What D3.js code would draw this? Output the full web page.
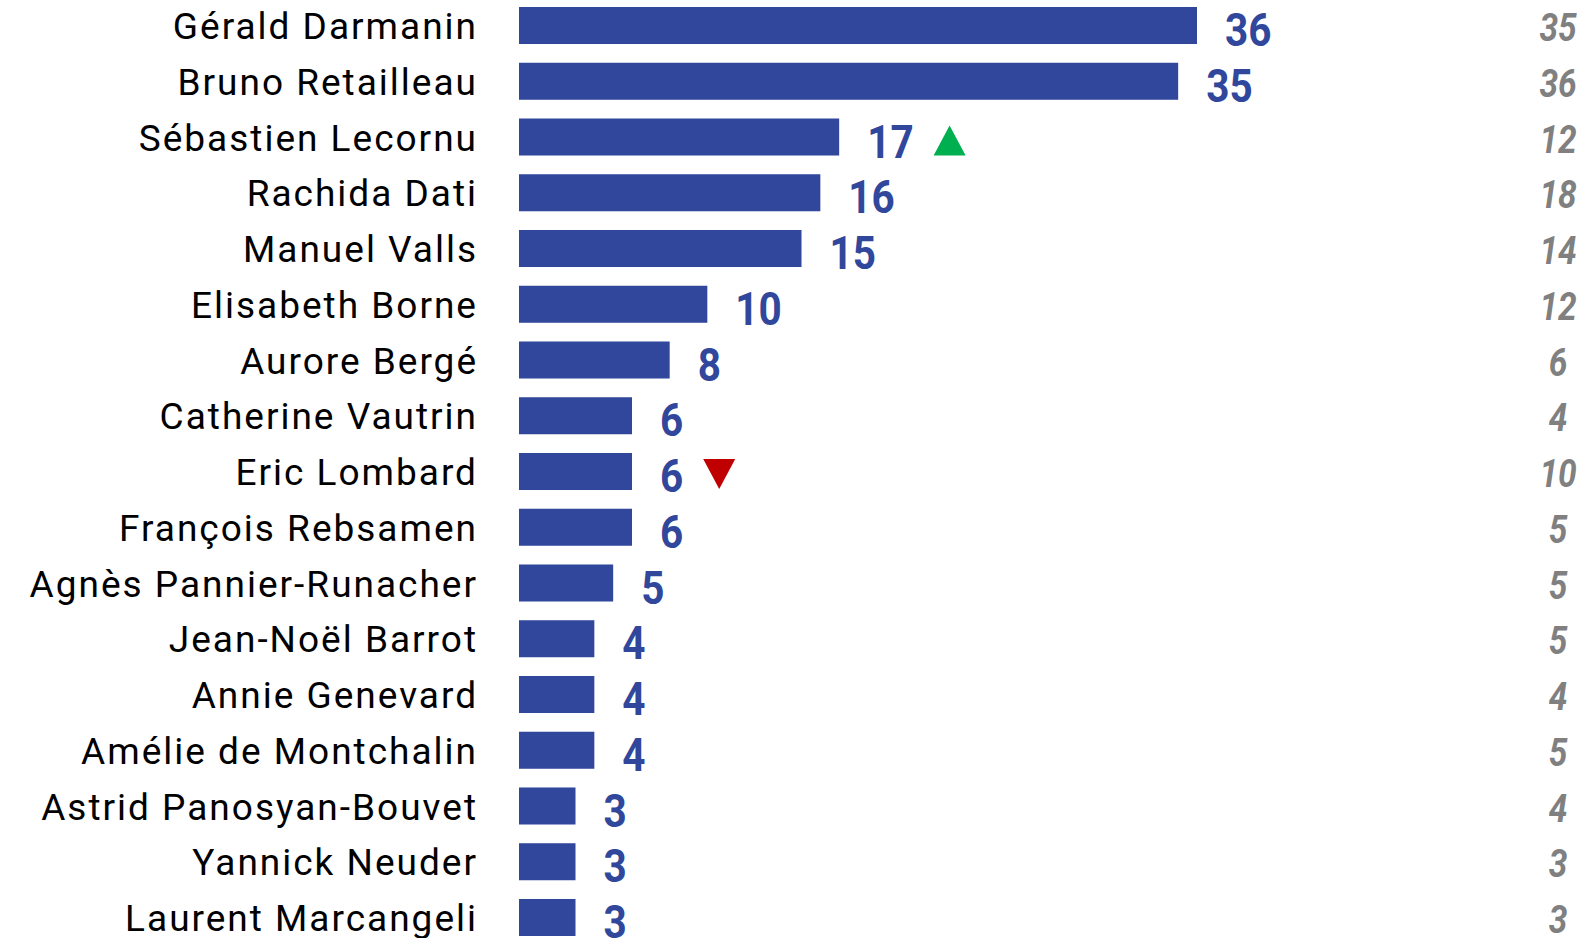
<!DOCTYPE html>
<html lang="fr">
<head>
<meta charset="UTF-8">
<title>Barres ministres</title>
<script src="https://cdn.jsdelivr.net/npm/d3@7"></script>
<style>
    html, body { margin: 0; padding: 0; background: #fff; }
    svg { display: block; }
    .name { font-family: Roboto, sans-serif; font-size: 37px; letter-spacing: 2px; fill: #000; }
    .value { font-family: Roboto, sans-serif; font-size: 46px; font-weight: 700; fill: #30479c; }
    .prev { font-family: Roboto, sans-serif; font-size: 38px; font-weight: 700; font-style: italic; fill: #808080; }
</style>
</head>
<body>
<svg width="1595" height="938"></svg>
<script>
    // data
    const names = ["Gérald Darmanin", "Bruno Retailleau", "Sébastien Lecornu", "Rachida Dati",
        "Manuel Valls", "Elisabeth Borne", "Aurore Bergé", "Catherine Vautrin", "Eric Lombard",
        "François Rebsamen", "Agnès Pannier-Runacher", "Jean-Noël Barrot", "Annie Genevard",
        "Amélie de Montchalin", "Astrid Panosyan-Bouvet", "Yannick Neuder", "Laurent Marcangeli"];
    const values = [36, 35, 17, 16, 15, 10, 8, 6, 6, 6, 5, 4, 4, 4, 3, 3, 3];
    const previous = [35, 36, 12, 18, 14, 12, 6, 4, 10, 5, 5, 5, 4, 5, 4, 3, 3];
    const trends = ["", "", "up", "", "", "", "", "", "down", "", "", "", "", "", "", "", ""];

    const rows = names.map((n, i) => ({name: n, value: values[i], prev: previous[i], trend: trends[i]}));

    const svg = d3.select("svg");
    const squeeze = 0.88; // narrow the digits a bit, the original font is semi condensed

    const x = d3.scaleLinear().domain([0, 36]).range([519, 1197]);
    const y = d3.scaleBand().domain(names).range([7, 936]).paddingInner(0.336).paddingOuter(0);
    const bh = y.bandwidth();

    const row = svg.selectAll("g.row").data(rows).enter().append("g").attr("class", "row");

    row.append("rect")
        .attr("x", x(0))
        .attr("y", d => y(d.name))
        .attr("width", d => x(d.value) - x(0))
        .attr("height", bh)
        .attr("fill", "#30479c");

    // trailing letter-spacing is added after the last glyph, so shift by it
    row.append("text").attr("class", "name")
        .attr("text-anchor", "end")
        .attr("x", 478)
        .attr("y", d => y(d.name) + bh - 5)
        .text(d => d.name);

    const lab = row.append("text").attr("class", "value")
        .attr("transform", d => `translate(${x(d.value) + 28},${y(d.name) + bh + 2}) scale(${squeeze},1)`)
        .text(d => d.value);

    row.append("text").attr("class", "prev")
        .attr("text-anchor", "middle")
        .attr("transform", d => `translate(1558,${y(d.name) + bh - 3}) scale(${squeeze},1)`)
        .text(d => d.prev);

    // trend arrows after the value label
    lab.each(function (d) {
        if (!d.trend) return;
        const w = this.getBBox().width * squeeze;
        const x0 = x(d.value) + 28 + w + 20;
        const top = y(d.name), tw = 32, th = 30;
        const p = d.trend === "up"
            ? [[x0, top + bh], [x0 + tw, top + bh], [x0 + tw / 2, top + bh - th]]
            : [[x0, top + 6], [x0 + tw, top + 6], [x0 + tw / 2, top + 6 + th]];
        svg.append("path")
            .attr("d", d3.line()(p) + "Z")
            .attr("fill", d.trend === "up" ? "#00b050" : "#c00000");
    });
</script>
</body>
</html>
